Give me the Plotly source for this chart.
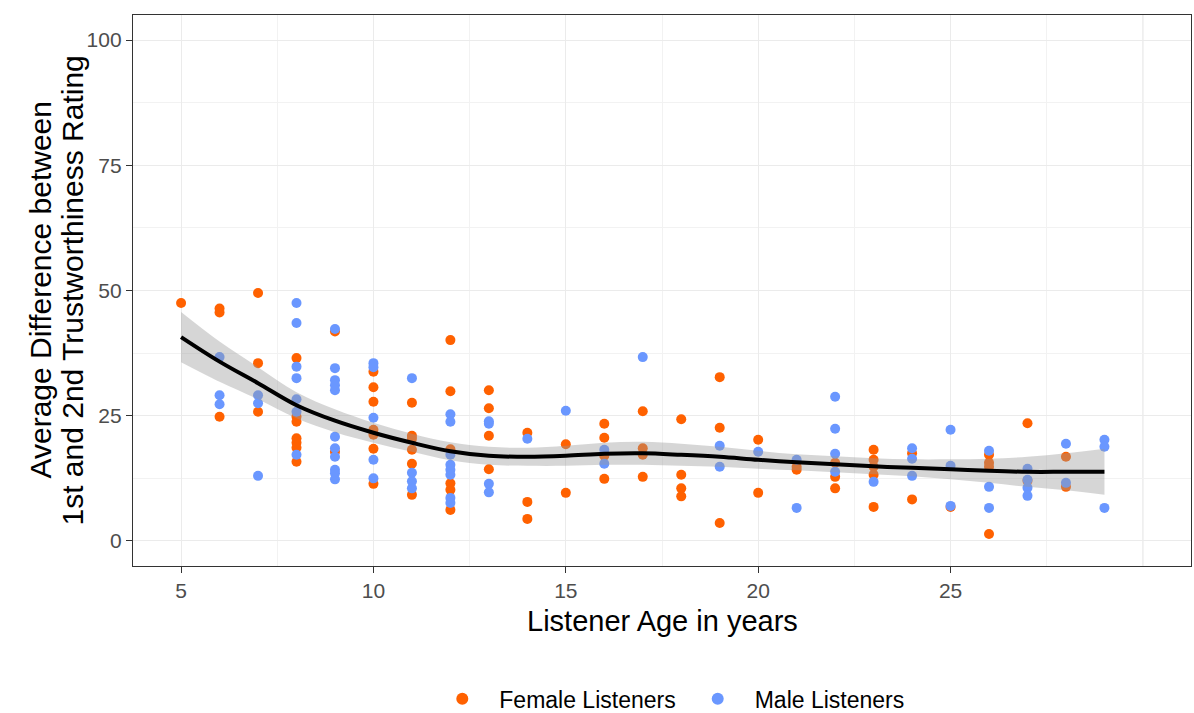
import plotly.graph_objects as go

# ---- data ----
female_age = [5,
              6, 6, 6,
              7, 7, 7,
              8, 8, 8, 8, 8, 8, 8,
              9, 9,
              10, 10, 10, 10, 10, 10, 10,
              11, 11, 11, 11, 11, 11,
              12, 12, 12, 12, 12, 12,
              13, 13, 13, 13,
              14, 14, 14,
              15, 15,
              16, 16, 16, 16,
              17, 17, 17, 17,
              18, 18, 18, 18,
              19, 19, 19,
              20, 20,
              21, 21,
              22, 22, 22,
              23, 23, 23, 23, 23,
              24, 24,
              25,
              26, 26, 26, 26,
              27, 27,
              28, 28]
female_val = [47.5,
              46.4, 45.6, 24.8,
              49.5, 35.5, 25.8,
              36.5, 24.8, 23.8, 20.5, 19.6, 18.6, 15.8,
              41.8, 17.8,
              33.8, 30.7, 27.8, 22.2, 21.2, 18.4, 11.4,
              27.6, 21.0, 20.4, 18.2, 15.4, 9.2,
              40.1, 29.9, 18.3, 11.5, 10.2, 6.2,
              30.1, 26.5, 21.0, 14.3,
              21.6, 7.8, 4.4,
              19.3, 9.6,
              23.4, 20.6, 17.0, 12.4,
              25.9, 18.5, 17.2, 12.8,
              24.3, 13.2, 10.5, 8.9,
              32.7, 22.6, 3.6,
              20.2, 9.6,
              14.8, 14.2,
              15.6, 12.8, 10.5,
              18.2, 16.2, 14.8, 13.2, 6.8,
              17.5, 8.3,
              6.8,
              17.2, 15.6, 14.8, 1.4,
              23.5, 12.0,
              16.8, 10.8]

male_age = [6, 6, 6,
            7, 7, 7,
            8, 8, 8, 8, 8, 8, 8,
            9, 9, 9, 9, 9, 9, 9, 9, 9, 9, 9,
            10, 10, 10, 10, 10,
            11, 11, 11, 11,
            12, 12, 12, 12, 12, 12, 12, 12,
            13, 13, 13, 13,
            14,
            15,
            16, 16,
            17,
            19, 19,
            20,
            21, 21,
            22, 22, 22, 22,
            23,
            24, 24, 24,
            25, 25, 25,
            26, 26, 26,
            27, 27, 27, 27,
            28, 28,
            29, 29, 29]
male_val = [36.7, 29.1, 27.3,
            29.1, 27.5, 13.0,
            47.5, 43.5, 34.8, 32.5, 28.3, 25.8, 17.2,
            42.3, 34.5, 32.1, 31.1, 30.1, 20.8, 18.5, 16.8, 14.2, 13.5, 12.3,
            35.5, 34.7, 24.6, 16.2, 12.5,
            32.5, 13.6, 11.9, 10.5,
            25.3, 23.8, 17.2, 15.2, 14.2, 13.2, 8.6, 7.6,
            23.9, 23.4, 11.4, 9.7,
            20.4,
            26.0,
            18.2, 15.4,
            36.7,
            19.0, 14.8,
            17.8,
            16.2, 6.6,
            28.8, 22.4, 17.4, 13.8,
            11.8,
            18.5, 16.4, 13.0,
            22.2, 15.0, 7.0,
            18.0, 10.8, 6.6,
            14.4, 12.2, 10.6, 9.0,
            19.4, 11.6,
            20.2, 18.8, 6.6]

smooth_age = [5, 6, 7, 8, 9, 10, 11, 12, 13, 14, 15, 16, 17, 18, 19, 20, 21, 22, 23, 24, 25, 26, 27, 28, 29]
smooth_fit = [40.7, 35.8, 31.5, 27.1, 24.0, 21.6, 19.6, 17.9, 17.0, 16.8, 17.0, 17.4, 17.5, 17.2, 16.8, 16.2,
              15.7, 15.3, 14.9, 14.6, 14.3, 14.0, 13.8, 13.8, 13.8]
smooth_upper = [45.7, 39.8, 34.7, 29.7, 26.3, 23.6, 21.4, 19.7, 18.8, 18.6, 19.0, 19.6, 19.8, 19.4, 18.8, 18.0,
                17.3, 16.9, 16.5, 16.3, 16.3, 16.4, 16.8, 17.5, 18.4]
smooth_lower = [35.7, 31.8, 28.3, 24.5, 21.7, 19.6, 17.8, 16.1, 15.2, 15.0, 15.0, 15.2, 15.2, 15.0, 14.8, 14.4,
                14.1, 13.7, 13.3, 12.9, 12.3, 11.6, 10.8, 10.1, 9.2]

x_ticks = [5, 10, 15, 20, 25]
y_ticks = [0, 25, 50, 75, 100]

ORANGE = "#FF6100"
BLUE = "#6A97FF"
FONT = "Liberation Sans, Arial, sans-serif"

fig = go.Figure()

fig.add_trace(go.Scatter(x=female_age, y=female_val, mode="markers", name="Female Listeners",
                         marker=dict(color=ORANGE, size=10, line=dict(width=0))))
fig.add_trace(go.Scatter(x=male_age, y=male_val, mode="markers", name="Male Listeners",
                         marker=dict(color=BLUE, size=10, line=dict(width=0))))

# confidence band
fig.add_trace(go.Scatter(x=smooth_age, y=smooth_upper, mode="lines", line=dict(width=0, shape="spline"),
                         showlegend=False, hoverinfo="skip"))
fig.add_trace(go.Scatter(x=smooth_age, y=smooth_lower, mode="lines", line=dict(width=0, shape="spline"),
                         fill="tonexty", fillcolor="rgba(153,153,153,0.4)", showlegend=False, hoverinfo="skip"))
fig.add_trace(go.Scatter(x=smooth_age, y=smooth_fit, mode="lines",
                         line=dict(color="black", width=4, shape="spline"), showlegend=False))

grid = "#EBEBEB"
common = dict(showgrid=True, gridcolor=grid, gridwidth=1.4,
              ticks="outside", ticklen=6, tickwidth=1.3, tickcolor="#333333",
              tickfont=dict(size=21, color="#4D4D4D", family=FONT),
              showline=True, linecolor="#333333", linewidth=1.3, mirror=True, zeroline=False,
              automargin=False)
fig.update_xaxes(range=[3.75, 31.25], tickvals=x_ticks, ticktext=[str(v) for v in x_ticks],
                 minor=dict(tickvals=[7.5, 12.5, 17.5, 22.5, 27.5], showgrid=True, gridcolor="#F2F2F2",
                            gridwidth=0.8, ticklen=0), **common)
fig.update_yaxes(range=[-5, 105], tickvals=y_ticks, ticktext=[str(v) for v in y_ticks],
                 minor=dict(tickvals=[12.5, 37.5, 62.5, 87.5], showgrid=True, gridcolor="#F2F2F2",
                            gridwidth=0.8, ticklen=0), **common)

# major gridline at x = 30 (no tick label in the reference)
fig.add_shape(type="line", xref="x", yref="paper", x0=30, x1=30, y0=0, y1=1,
              line=dict(color=grid, width=1.4), layer="below")

# axis titles
fig.add_annotation(text="Listener Age in years", xref="paper", yref="paper", x=0.5, y=0,
                   xanchor="center", yanchor="middle", yshift=-55, showarrow=False,
                   font=dict(size=29, color="black", family=FONT))
fig.add_annotation(text="Average Difference between",
                   xref="paper", yref="paper", x=0, y=0.5, xanchor="center", yanchor="middle",
                   xshift=-93, textangle=-90, showarrow=False,
                   font=dict(size=30, color="black", family=FONT))
fig.add_annotation(text="1st and 2nd Trustworthiness Rating",
                   xref="paper", yref="paper", x=0, y=0.5, xanchor="center", yanchor="middle",
                   xshift=-61, textangle=-90, showarrow=False,
                   font=dict(size=30, color="black", family=FONT))

fig.update_layout(
    width=1194, height=713,
    margin=dict(l=133, r=3, t=15, b=147),
    paper_bgcolor="white", plot_bgcolor="white",
    font=dict(family=FONT, color="black"),
    legend=dict(orientation="h", x=0.505, xanchor="center", yref="container", y=0.02, yanchor="middle",
                font=dict(size=23, color="black", family=FONT), itemwidth=64, traceorder="normal",
                itemsizing="constant", bgcolor="rgba(0,0,0,0)"),
)

fig.write_html("out.html")
